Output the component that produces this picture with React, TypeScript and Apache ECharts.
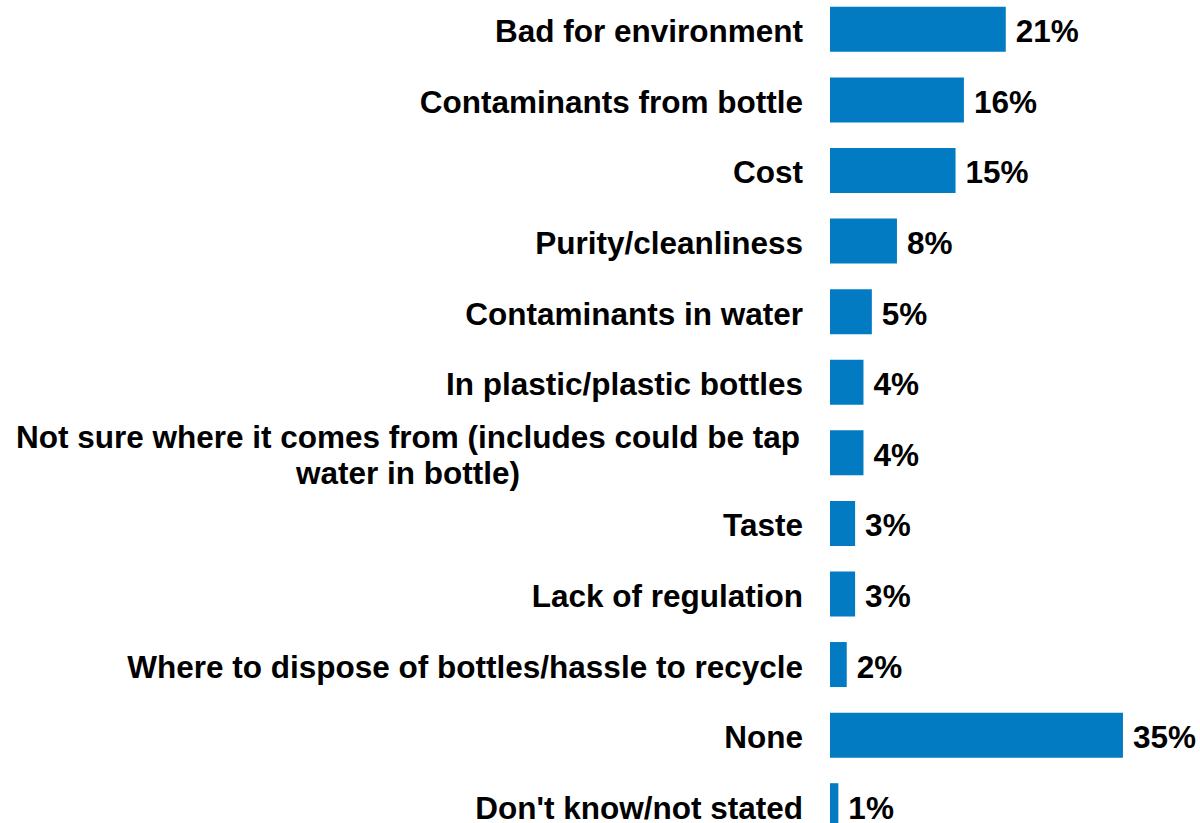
import React, { useEffect, useRef } from "react";
import * as echarts from "echarts";

const categories = [
  "Bad for environment",
  "Contaminants from bottle",
  "Cost",
  "Purity/cleanliness",
  "Contaminants in water",
  "In plastic/plastic bottles",
  "Not sure where it comes from (includes could be tap water in bottle)",
  "Taste",
  "Lack of regulation",
  "Where to dispose of bottles/hassle to recycle",
  "None",
  "Don't know/not stated",
];
const values = [21, 16, 15, 8, 5, 4, 4, 3, 3, 2, 35, 1];

const LONG = categories[6];
const LONG_LINES = ["Not sure where it comes from (includes could be tap", "water in bottle)"];

export default function App() {
  const ref = useRef<HTMLDivElement>(null);
  useEffect(() => {
    if (!ref.current) return;
    const chart = echarts.init(ref.current, undefined, { renderer: "svg" });
    const font = { fontFamily: "'Liberation Sans', Arial, sans-serif", fontWeight: "bold" as const, fontSize: 31.5, color: "#000" };
    chart.setOption({
      animation: false,
      grid: { left: 830, top: 14, width: 334.8, height: 847, containLabel: false },
      xAxis: { type: "value", min: 0, max: 40, show: false },
      yAxis: {
        type: "category",
        data: categories,
        inverse: true,
        axisLine: { show: false },
        axisTick: { show: false },
        splitLine: { show: false },
        axisLabel: {
          ...font,
          margin: 27,
          align: "right",
          interval: 0,
          padding: [4, 0, 0, 0],
          formatter: (v: string) =>
            v === LONG ? LONG_LINES.map((l) => `{c|${l}}`).join("\n") : v,
          rich: {
            c: { ...font, width: 790, align: "center", lineHeight: 36 },
          },
        },
      },
      series: [
        {
          type: "bar",
          data: values,
          barWidth: 45,
          itemStyle: { color: "#027BC2" },
          label: {
            show: true,
            position: "right",
            distance: 10,
            offset: [0, 2],
            formatter: "{c}%",
            ...font,
          },
        },
      ],
    });
    return () => chart.dispose();
  }, []);
  return <div ref={ref} style={{ position: "fixed", left: 0, top: -20, width: 1200, height: 900, background: "#fff" }} />;
}
